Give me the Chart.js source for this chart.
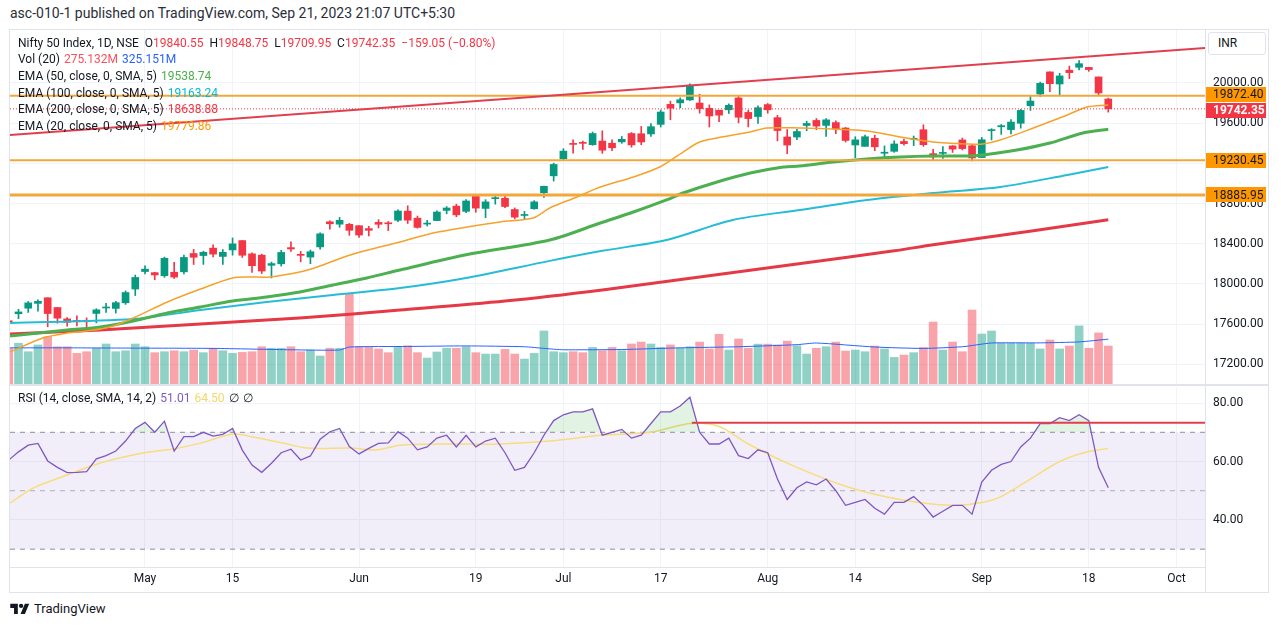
<!DOCTYPE html>
<html>
<head>
<meta charset="utf-8">
<title>Nifty 50 Index, 1D</title>
<script src="https://cdn.jsdelivr.net/npm/chart.js"></script>
<style>
  html, body { margin: 0; padding: 0; background: #fff; }
  body { width: 1281px; height: 627px; position: relative; overflow: hidden;
         font-family: Roboto, 'Noto Sans', sans-serif; color: #131722; }
  .abs { position: absolute; }
  #pub { left: 10px; top: 5px; font-size: 14px; color: #2a2e39; white-space: nowrap; }
  #frame { left: 9px; top: 29px; width: 1260px; height: 564px; border: 1px solid #e0e3eb; box-sizing: border-box; }
  #axisSep { left: 1205px; top: 30px; width: 1px; height: 563px; background: #e0e3eb; }
  #paneSep { left: 10px; top: 384px; width: 1259px; height: 2px; background: #e0e3eb; }
  #timeSep { left: 10px; top: 567px; width: 1195px; height: 1px; background: #e0e3eb; }
  canvas { position: absolute; left: 0; }
  .lg { position: absolute; left: 18px; font-size: 12px; line-height: 16px; white-space: nowrap; color: #131722; }
  .lg span { margin-left: 4px; }
  #inr { left: 1208px; top: 32px; width: 58px; height: 23px; border: 1px solid #e0e3eb; border-radius: 3px;
         box-sizing: border-box; background: #fff; font-size: 12px; line-height: 21px; padding-left: 9px; }
  #foot { left: 10px; top: 601px; font-size: 13px; color: #131722; display: flex; align-items: center; gap: 4px; }
</style>
</head>
<body>
<div id="pub" class="abs">asc-010-1 published on TradingView.com, Sep 21, 2023 21:07 UTC+5:30</div>
<div id="frame" class="abs"></div>
<canvas id="main" width="1281" height="354" style="top:30px"></canvas>
<canvas id="rsi" width="1281" height="208" style="top:386px"></canvas>
<div id="axisSep" class="abs"></div>
<div id="paneSep" class="abs"></div>
<div id="timeSep" class="abs"></div>
<div id="inr" class="abs">INR</div>

<div class="lg" style="top:35px">Nifty 50 Index, 1D, NSE&nbsp;&nbsp;O<span style="color:#f23645;margin-left:0">19840.55</span>&nbsp;&nbsp;H<span style="color:#f23645;margin-left:0">19848.75</span>&nbsp;&nbsp;L<span style="color:#f23645;margin-left:0">19709.95</span>&nbsp;&nbsp;C<span style="color:#f23645;margin-left:0">19742.35</span><span style="color:#f23645;margin-left:6px">−159.05 (−0.80%)</span></div>
<div class="lg" style="top:51px">Vol (20)<span style="color:#f7525f">275.132M</span><span style="color:#2962ff">325.151M</span></div>
<div class="lg" style="top:68px">EMA (50, close, 0, SMA, 5)<span style="color:#4caf50">19538.74</span></div>
<div class="lg" style="top:85px">EMA (100, close, 0, SMA, 5)<span style="color:#00bcd4">19163.24</span></div>
<div class="lg" style="top:101px">EMA (200, close, 0, SMA, 5)<span style="color:#f23645">18638.88</span></div>
<div class="lg" style="top:118px">EMA (20, close, 0, SMA, 5)<span style="color:#ff9800">19779.86</span></div>
<div class="lg" style="top:390px">RSI (14, close, SMA, 14, 2)<span style="color:#7e57c2">51.01</span><span style="color:#f5d66a">64.50</span><span>∅</span><span>∅</span></div>

<div id="foot" class="abs">
  <svg width="20" height="13" viewBox="0 0 36 24"><path d="M14 22H7V11H0V3h14v19Z" fill="#131722"/><circle cx="20" cy="7" r="4" fill="#131722"/><path d="M27 22h-8l8-19h8l-8 19Z" fill="#131722"/></svg>
  <span>TradingView</span>
</div>

<script>
// ---- data (bar index -1 = Apr 10, 0 = Apr 11 ... 112 = Sep 21) ----
const FIRST = -1;
const days = ['Apr 10','Apr 11','Apr 12','Apr 13','Apr 17','Apr 18','Apr 19','Apr 20','Apr 21','Apr 24','Apr 25','Apr 26','Apr 27','Apr 28',
  'May 2','May 3','May 4','May 5','May 8','May 9','May 10','May 11','May 12','May 15','May 16','May 17','May 18','May 19','May 22','May 23','May 24','May 25','May 26','May 29','May 30','May 31',
  'Jun 1','Jun 2','Jun 5','Jun 6','Jun 7','Jun 8','Jun 9','Jun 12','Jun 13','Jun 14','Jun 15','Jun 16','Jun 19','Jun 20','Jun 21','Jun 22','Jun 23','Jun 26','Jun 27','Jun 28','Jun 30',
  'Jul 3','Jul 4','Jul 5','Jul 6','Jul 7','Jul 10','Jul 11','Jul 12','Jul 13','Jul 14','Jul 17','Jul 18','Jul 19','Jul 20','Jul 21','Jul 24','Jul 25','Jul 26','Jul 27','Jul 28','Jul 31',
  'Aug 1','Aug 2','Aug 3','Aug 4','Aug 7','Aug 8','Aug 9','Aug 10','Aug 11','Aug 14','Aug 16','Aug 17','Aug 18','Aug 21','Aug 22','Aug 23','Aug 24','Aug 25','Aug 28','Aug 29','Aug 30','Aug 31',
  'Sep 1','Sep 4','Sep 5','Sep 6','Sep 7','Sep 8','Sep 11','Sep 12','Sep 13','Sep 14','Sep 15','Sep 18','Sep 20','Sep 21'];

const open = [17634,
  17704,17759,17807,17863,17766,17653,17638,17639, 17707,17761,17757,17813,17950,
  18124,18113,18082,18117, 18121,18303,18283,18357,18274, 18339,18432,18300,18287,18186,
  18201,18362,18295,18268,18369, 18619,18595,18594, 18580,18551,
  18613,18600,18634,18725,18655, 18596,18631,18732,18775,18723, 18873,18752,18849,18853,18741,
  18682,18748,18908,19076, 19246,19390,19405,19386,19422, 19400,19414,19497,19495,19493,
  19588,19787,19802,19831,19800, 19748,19729,19733,19851,19707, 19666,
  19785,19655,19463,19462, 19577,19627,19578,19606,19552, 19383,19369,19450,19301,
  19320,19418,19440,19535,19297, 19299,19374,19433,19375, 19258,
  19526,19564,19536,19599,19774, 19890,20110,19990,20127,20156, 20155,20060,19840.55];
const high = [17694,
  17748,17826,17842,17863,17766,17666,17684,17663, 17754,17808,17827,17931,18089,
  18180,18117,18267,18216, 18287,18344,18326,18389,18342, 18458,18432,18309,18297,18218,
  18335,18419,18324,18338,18509, 18628,18662,18603, 18580,18574,
  18640,18622,18738,18778,18676, 18633,18728,18770,18794,18840, 18881,18839,18876,18886,18757,
  18722,18829,18974,19202, 19346,19434,19422,19512,19524, 19435,19468,19507,19567,19595,
  19731,19819,19851,19991,19887, 19782,19729,19792,19867,19729, 19772,
  19796,19678,19537,19538, 19620,19646,19645,19623,19557, 19465,19482,19479,19374,
  19425,19442,19472,19584,19339, 19366,19377,19452,19388, 19458,
  19545,19587,19636,19737,19867, 20008,20110,20096,20168,20222, 20156,20060,19848.75];
const low = [17597,
  17655,17717,17729,17574,17610,17580,17584,17553, 17613,17716,17711,17797,17885,
  18101,18042,18066,18055, 18101,18194,18195,18270,18195, 18287,18264,18116,18104,18060,
  18178,18324,18221,18202,18347, 18546,18564,18484, 18464,18478,
  18557,18531,18619,18602,18555, 18577,18631,18698,18669,18710, 18714,18660,18794,18759,18647,
  18646,18744,18861,19024, 19235,19301,19339,19380,19300, 19327,19400,19361,19385,19467,
  19562,19634,19753,19826,19700, 19562,19616,19696,19603,19563, 19598,
  19699,19424,19296,19436, 19525,19535,19467,19495,19412, 19257,19370,19326,19254,
  19310,19381,19377,19369,19230, 19249,19309,19334,19224, 19256,
  19433,19489,19492,19550,19727, 19865,19914,19879,20043,20129, 20116,19878,19709.95];
const close = [17624,
  17722,17812,17828,17706,17660,17618,17624,17624, 17743,17769,17814,17915,18065,
  18148,18090,18256,18069, 18264,18266,18315,18297,18315, 18399,18286,18182,18129,18203,
  18314,18348,18285,18321,18499, 18599,18633,18534, 18487,18534,
  18594,18599,18726,18635,18563, 18602,18716,18756,18688,18826, 18755,18817,18857,18771,18665,
  18691,18817,18972,19189, 19322,19389,19399,19497,19331, 19355,19439,19384,19413,19565,
  19711,19749,19833,19979,19745, 19672,19680,19778,19659,19646, 19754,
  19733,19527,19382,19517, 19597,19571,19633,19543,19428, 19434,19465,19365,19310,
  19393,19396,19444,19386,19265, 19306,19342,19347,19254, 19435,
  19528,19575,19611,19727,19820, 19996,19993,20070,20103,20192, 20133,19901,19742.35];
// volume in millions
const volume = [258,
  295,234,283,343,270,270,222,234, 259,290,234,241,290,
  270,227,234,241, 234,246,227,259,241, 222,229,234,270,259,
  259,270,234,246,203, 259,259,655, 270,265,
  254,227,270,277,227, 188,232,259,259,270, 227,217,217,251,217,
  181,222,384,234, 227,234,227,265,241, 265,241,290,304,290,
  265,283,259,270,304, 254,360,246,326,259, 289,
  289,283,311,277, 217,259,270,304,239, 246,234,275,254,
  193,210,227,264,449, 246,304,234,536, 362,
  384,295,295,295,295, 254,319,254,275,421, 259,370,275];
const rsi = [60.5,
  63.3,65.6,66.2,60.2,58.0,56.2,56.3,56.5, 60.9,62.0,63.6,67.0,71.3,
  73.4,70.0,73.8,63.6, 68.5,68.5,70.0,68.7,69.3, 71.3,63.9,58.8,56.3,59.4,
  63.0,64.2,60.5,61.9,67.6, 70.2,71.3,65.1, 62.6,64.5,
  66.2,66.4,70.2,68.0,64.0, 65.0,68.0,69.0,65.0,69.0, 65.0,67.0,68.0,63.0,57.0,
  58.0,63.0,69.0,74.0, 76.0,77.0,77.0,78.0,69.0, 70.0,71.0,68.0,69.0,73.0,
  77.0,77.0,79.0,82.0,70.0, 66.0,66.0,68.0,62.0,61.0, 64.0,
  63.0,54.0,47.0,51.0, 53.0,52.0,54.0,50.0,45.0, 46.0,47.0,44.0,42.0,
  46.0,46.0,48.0,45.0,41.0, 43.0,45.0,45.0,42.0, 53.0,
  57.0,59.0,60.0,65.0,68.0, 73.0,73.0,75.0,74.0,76.0, 74.0,58.0,51.01];

// indicator lines, sampled along the bars (bar index, value)
const ema20Idx = [-0.87,2.5,5,7,9.4,11.8,15.3,18.7,22,23.8,25.8,28.9,30.7,34.1,39.2,42.6,46.1,49.5,52.9,54.6,57.4,59.8,63.2,65.9,68.3,70,71.8,75.2,76.9,80.3,83.7,87.2,90.6,94,97.5,99.1,100.9,104.3,107.8,109.8,112];
const ema20Val = [17323,17463,17512,17532,17572,17662,17821,17950,18060,18070,18070,18119,18169,18289,18418,18507,18567,18617,18657,18756,18866,18965,19065,19164,19313,19413,19453,19512,19552,19552,19542,19522,19463,19413,19393,19393,19433,19552,19682,19761,19780];
const ema50Idx = [-0.87,5,8.4,11.8,15.3,18.7,22,25.5,28.9,32.3,35.8,39.2,46,54.6,59.8,63.2,66.6,68.3,71.8,75.2,78.6,80.3,83.7,87.2,90.6,94,97.5,99.1,102.6,106,109.4,112];
const ema50Val = [17483,17542,17572,17632,17711,17771,17831,17871,17920,17990,18060,18139,18290,18438,18607,18716,18836,18905,19015,19104,19164,19174,19214,19244,19264,19274,19274,19284,19333,19403,19502,19539];
const ema100Idx = [-0.87,11.8,18.7,25.5,32.3,39.2,46,54.6,60,66.6,73.4,80.3,87.2,94,100.9,107.8,112];
const ema100Val = [17612,17652,17741,17821,17891,17960,18060,18230,18330,18438,18637,18736,18836,18905,18965,19085,19163];
const ema200Idx = [-0.87,8.4,18.7,28.9,39.2,50,60,70,80,90,94,104.3,112];
const ema200Val = [17503,17542,17602,17662,17741,17830,17940,18070,18200,18330,18390,18530,18639];
const volMaIdx = [-1,5,12,20,28,33,34,40,46,52,54,56,62,68,74,80,82,88,93,97,100,105,109,112];
const volMaVal = [262,262,260,258,248,246,268,272,276,270,258,248,250,262,270,285,297,268,258,270,297,298,305,325];
const rsiMaIdx = [-0.87,1.5,5,8.4,12.8,15.9,18.7,22.1,24.1,27.2,29.7,34.1,36.8,39.2,44,49.5,54.6,59.8,65,69,72,75,80,85.5,90.6,95.8,99,101,104,107,109.5,112];
const rsiMaVal = [45.8,50.9,55.4,59.5,62.9,64.3,66.3,69.4,68.4,66.3,64.6,64.6,64.0,65.6,66,66,67,69,70,73,72,66,58,51,47,45,46,48,54,60,63,64.5];

// drawings
const levels = [19872.40, 19230.45, 18885.95];
const lastPrice = 19742.35;
const trendIdx = [-0.874, 121.94];
const trendVal = [19483, 20348];
const rsiDrawIdx = [69.2, 121.94];
const rsiDrawVal = [73.3, 73.3];

// axis ticks
const priceTicks = [17200,17600,18000,18400,18800,19200,19600,20000];
const rsiTicks = [40,60,80];
const tickIdx = [13,22,35,47,56,66,77,86,99,110,119];
const tickText = ['May','15','Jun','19','Jul','17','Aug','14','Sep','18','Oct'];

// ---- styling ----
const X_MIN = -0.874, X_MAX = 121.94;
const UP = '#089981', DOWN = '#f23645';
const GRID = '#f0f3fa';
Chart.defaults.font.family = "Roboto, 'Noto Sans', sans-serif";
Chart.defaults.font.size = 12;
Chart.defaults.color = '#131722';

const bars = open.map((o, k) => ({ x: k + FIRST, o, h: high[k], l: low[k], c: close[k], up: close[k] >= o }));
const pts = (idx, val) => idx.map((x, k) => ({ x, y: val[k] }));
const flat = v => [{ x: X_MIN, y: v }, { x: X_MAX, y: v }];

const xAxis = (showLabels) => ({
  type: 'linear', min: X_MIN, max: X_MAX, offset: false,
  afterBuildTicks: s => { s.ticks = tickIdx.map(v => ({ value: v })); },
  afterFit: s => { s.height = showLabels ? 27 : 0; s.paddingLeft = 0; s.paddingRight = 0; },
  ticks: { display: showLabels, autoSkip: false, maxRotation: 0, padding: 5,
           callback: (v, i) => tickText[i] },
  grid: { color: GRID, drawTicks: false, offset: false },
  border: { display: false }
});

// right price axis, fixed width, no label overhang padding
const yAxis = (min, max, ticks) => ({
  position: 'right', min, max,
  afterBuildTicks: s => { s.ticks = ticks.map(v => ({ value: v })); },
  afterFit: s => { s.width = 65; s.paddingTop = 0; s.paddingBottom = 0; },
  ticks: { padding: 8, callback: v => v.toFixed(2) },
  grid: { color: GRID, drawTicks: false }, border: { display: false }
});

const lineDs = (data, color, width, order, extra) => Object.assign({
  type: 'line', data, borderColor: color, borderWidth: width, pointRadius: 0,
  fill: false, tension: 0.3, order, yAxisID: 'y'
}, extra || {});

// price tags on the right axis
const tagPlugin = {
  id: 'tags',
  afterDraw(chart) {
    const ctx = chart.ctx, ys = chart.scales.y, left = chart.chartArea.right;
    const tags = levels.map(v => ({ v, y: ys.getPixelForValue(v), bg: '#ff9800', fg: '#131722', bold: false }));
    tags.push({ v: lastPrice, y: ys.getPixelForValue(lastPrice), bg: '#f23645', fg: '#ffffff', bold: true });
    tags.sort((a, b) => a.y - b.y);
    const H = 15;
    for (let k = 1; k < tags.length; k++) {
      const gap = tags[k].y - tags[k - 1].y;
      if (gap < H + 1) { const d = (H + 1 - gap) / 2; tags[k - 1].y -= d; tags[k].y += d; }
    }
    tags.forEach(t => {
      ctx.save();
      ctx.fillStyle = t.bg;
      ctx.fillRect(left, Math.round(t.y - H / 2), 61, H);
      ctx.fillStyle = t.fg;
      ctx.font = (t.bold ? 'bold ' : '') + "12px Roboto, 'Noto Sans', sans-serif";
      ctx.textBaseline = 'middle';
      ctx.fillText(t.v.toFixed(2), left + 8, Math.round(t.y) + 0.5);
      ctx.restore();
    });
  }
};

new Chart(document.getElementById('main'), {
  type: 'bar',
  data: {
    datasets: [
      { type: 'bar', yAxisID: 'yv', data: bars.map((b, k) => ({ x: b.x, y: volume[k] })),
        backgroundColor: bars.map(b => b.up ? 'rgba(8,153,129,0.45)' : 'rgba(242,54,69,0.45)'),
        barThickness: 8, grouped: false, order: 30 },
      lineDs(pts(volMaIdx, volMaVal), '#2962ff', 1, 29, { yAxisID: 'yv', tension: 0.2 }),
      { type: 'bar', yAxisID: 'y', data: bars.map(b => ({ x: b.x, y: [b.l, b.h] })),
        backgroundColor: bars.map(b => b.up ? UP : DOWN), barThickness: 1, grouped: false, order: 21 },
      { type: 'bar', yAxisID: 'y', data: bars.map(b => ({ x: b.x, y: [b.o, b.c] })),
        backgroundColor: bars.map(b => b.up ? UP : DOWN), barThickness: 7, minBarLength: 1, grouped: false, order: 20 },
      lineDs(pts(ema200Idx, ema200Val), '#e53945', 3, 8),
      lineDs(pts(ema100Idx, ema100Val), '#26bcd4', 2, 7),
      lineDs(pts(ema50Idx, ema50Val), '#4caf50', 3, 6),
      lineDs(pts(ema20Idx, ema20Val), '#f5a22b', 1.5, 5),
      lineDs(flat(levels[0]), '#f3a73a', 2, 3, { tension: 0 }),
      lineDs(flat(levels[1]), '#f3a73a', 2, 3, { tension: 0 }),
      lineDs(flat(levels[2]), '#f3a73a', 3, 3, { tension: 0 }),
      lineDs(pts(trendIdx, trendVal), '#e0404e', 2, 2, { tension: 0 }),
      lineDs(flat(lastPrice), '#f23645', 1, 1, { tension: 0, borderDash: [1, 2] })
    ]
  },
  options: {
    responsive: false, animation: false,
    layout: { padding: { left: 10, right: 11, top: 0, bottom: 0 } },
    plugins: { legend: { display: false }, tooltip: { enabled: false } },
    scales: {
      x: xAxis(false),
      y: yAxis(17005, 20527, priceTicks),
      yv: { display: false, min: 0, max: 2565 }
    }
  },
  plugins: [tagPlugin]
});

new Chart(document.getElementById('rsi'), {
  type: 'line',
  data: {
    datasets: [
      { data: flat(70), borderColor: '#8d909a', borderWidth: 1, borderDash: [5, 5], pointRadius: 0,
        fill: '+1', backgroundColor: 'rgba(126,87,194,0.1)', order: 5 },
      { data: flat(30), borderColor: '#8d909a', borderWidth: 1, borderDash: [5, 5], pointRadius: 0, fill: false, order: 5 },
      { data: flat(50), borderColor: 'rgba(120,123,134,0.55)', borderWidth: 1, borderDash: [5, 5], pointRadius: 0, fill: false, order: 5 },
      { data: rsi.map((v, k) => ({ x: k + FIRST, y: v })), borderColor: '#7e57c2', borderWidth: 1.3, pointRadius: 0,
        tension: 0, fill: { target: { value: 70 }, above: 'rgba(76,175,80,0.16)', below: 'rgba(0,0,0,0)' }, order: 2 },
      { data: pts(rsiMaIdx, rsiMaVal), borderColor: '#f7dd7e', borderWidth: 1.5, pointRadius: 0, tension: 0.3, fill: false, order: 3 },
      { data: pts(rsiDrawIdx, rsiDrawVal), borderColor: '#e0404e', borderWidth: 2, pointRadius: 0, fill: false, order: 1 }
    ]
  },
  options: {
    responsive: false, animation: false,
    layout: { padding: { left: 10, right: 11, top: 1, bottom: 0 } },
    plugins: { legend: { display: false }, tooltip: { enabled: false } },
    scales: {
      x: xAxis(true),
      y: yAxis(23.9, 85.5, rsiTicks)
    }
  }
});
</script>
</body>
</html>
